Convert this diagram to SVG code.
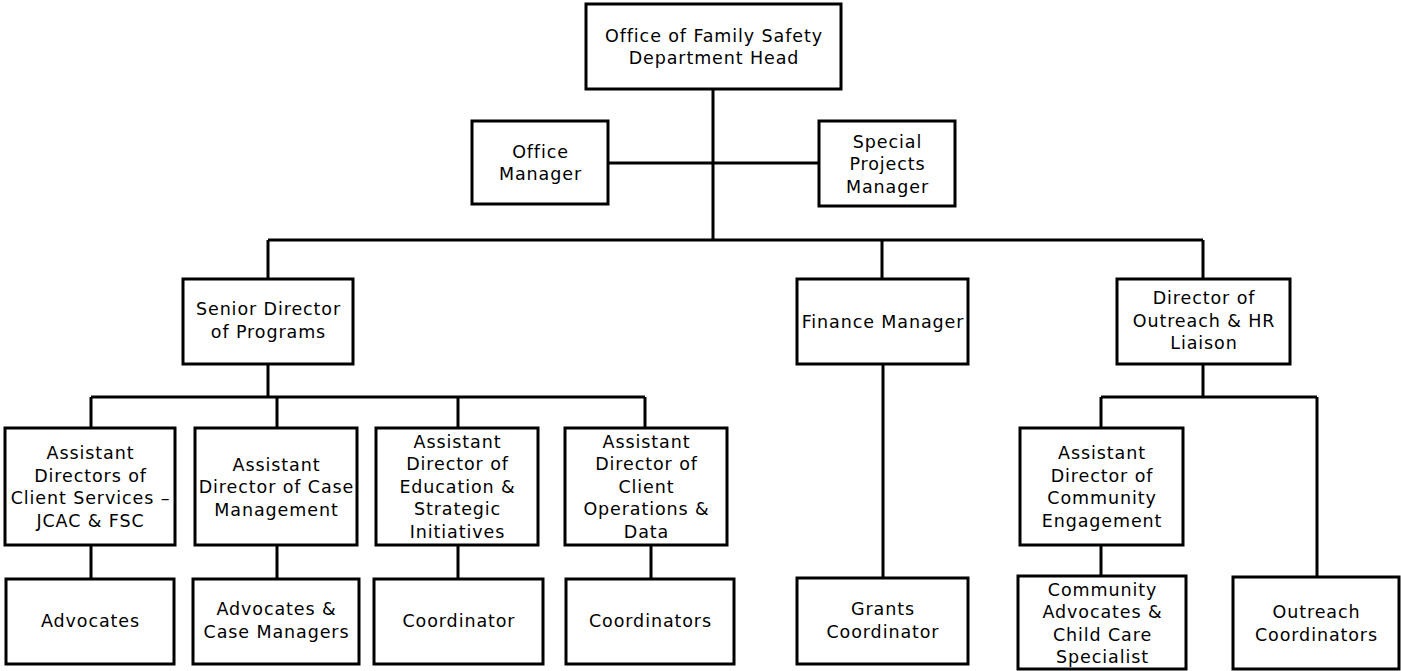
<svg xmlns="http://www.w3.org/2000/svg" width="1401" height="671" viewBox="0 0 1401 671">
<style>
.box{fill:#fff;stroke:#000;stroke-width:3}
.ln{stroke:#000;stroke-width:3;fill:none}
text{font-family:"DejaVu Sans",Verdana,sans-serif;font-size:17.5px;letter-spacing:0.9px;fill:#000;text-anchor:middle}
</style>
<rect width="1401" height="671" fill="#fff"/>
<g id="connectors">
<path class="ln" d="M713 89V240M608 163H819M268 240H1203M268 240V279M882 240V279M1203 240V279"/>
<path class="ln" d="M268 364V397M91 397H645M91 397V428M277 397V428M458 397V428M645 397V428"/>
<path class="ln" d="M91 545V579M277 545V579M458 545V579M651 545V579"/>
<path class="ln" d="M883 364V578"/>
<path class="ln" d="M1203 364V397M1101 397H1317M1101 397V428M1317 397V577M1101 545V576"/>
</g>
<g id="head"><rect class="box" x="586" y="4" width="255" height="85"/><text x="714" y="41.5">Office of Family Safety<tspan x="714" dy="22.5">Department Head</tspan></text></g>
<g id="office-manager"><rect class="box" x="472" y="121" width="136" height="83"/><text x="540.5" y="157.5">Office<tspan x="540.5" dy="22.5">Manager</tspan></text></g>
<g id="special-projects"><rect class="box" x="819" y="121" width="136" height="85"/><text x="887.5" y="147.5">Special<tspan x="887.5" dy="22.5">Projects</tspan><tspan x="887.5" dy="22.5">Manager</tspan></text></g>
<g id="senior-director"><rect class="box" x="183" y="279" width="170" height="85"/><text x="268.5" y="315">Senior Director<tspan x="268.5" dy="22.5">of Programs</tspan></text></g>
<g id="finance-manager"><rect class="box" x="797" y="279" width="171" height="85"/><text x="883" y="327.5">Finance Manager</text></g>
<g id="director-outreach"><rect class="box" x="1117" y="279" width="173" height="85"/><text x="1204" y="304">Director of<tspan x="1204" dy="22.5">Outreach &amp; HR</tspan><tspan x="1204" dy="22.5">Liaison</tspan></text></g>
<g id="ad-client-services"><rect class="box" x="5" y="428" width="170" height="117"/><text x="90.5" y="459">Assistant<tspan x="90.5" dy="22.5">Directors of</tspan><tspan x="90.5" dy="22.5">Client Services –</tspan><tspan x="90.5" dy="22.5">JCAC &amp; FSC</tspan></text></g>
<g id="ad-case-management"><rect class="box" x="195" y="428" width="162" height="117"/><text x="276.5" y="470.5">Assistant<tspan x="276.5" dy="22.5">Director of Case</tspan><tspan x="276.5" dy="22.5">Management</tspan></text></g>
<g id="ad-education"><rect class="box" x="376" y="428" width="162" height="117"/><text x="457.5" y="447.5">Assistant<tspan x="457.5" dy="22.5">Director of</tspan><tspan x="457.5" dy="22.5">Education &amp;</tspan><tspan x="457.5" dy="22.5">Strategic</tspan><tspan x="457.5" dy="22.5">Initiatives</tspan></text></g>
<g id="ad-client-operations"><rect class="box" x="565" y="428" width="162" height="117"/><text x="646.5" y="447.5">Assistant<tspan x="646.5" dy="22.5">Director of</tspan><tspan x="646.5" dy="22.5">Client</tspan><tspan x="646.5" dy="22.5">Operations &amp;</tspan><tspan x="646.5" dy="22.5">Data</tspan></text></g>
<g id="advocates"><rect class="box" x="6" y="579" width="168" height="85"/><text x="90.5" y="627">Advocates</text></g>
<g id="advocates-case-managers"><rect class="box" x="193" y="579" width="166" height="85"/><text x="276.5" y="615">Advocates &amp;<tspan x="276.5" dy="22.5">Case Managers</tspan></text></g>
<g id="coordinator"><rect class="box" x="374" y="579" width="169" height="85"/><text x="459" y="627">Coordinator</text></g>
<g id="coordinators"><rect class="box" x="566" y="579" width="168" height="85"/><text x="650.5" y="627">Coordinators</text></g>
<g id="grants-coordinator"><rect class="box" x="797" y="578" width="171" height="86"/><text x="883" y="615">Grants<tspan x="883" dy="22.5">Coordinator</tspan></text></g>
<g id="ad-community"><rect class="box" x="1020" y="428" width="163" height="117"/><text x="1102" y="459">Assistant<tspan x="1102" dy="22.5">Director of</tspan><tspan x="1102" dy="22.5">Community</tspan><tspan x="1102" dy="22.5">Engagement</tspan></text></g>
<g id="community-advocates"><rect class="box" x="1018" y="576" width="168" height="93"/><text x="1102.5" y="595.5">Community<tspan x="1102.5" dy="22.5">Advocates &amp;</tspan><tspan x="1102.5" dy="22.5">Child Care</tspan><tspan x="1102.5" dy="22.5">Specialist</tspan></text></g>
<g id="outreach-coordinators"><rect class="box" x="1233" y="577" width="166" height="92"/><text x="1316.5" y="618">Outreach<tspan x="1316.5" dy="22.5">Coordinators</tspan></text></g>
</svg>
